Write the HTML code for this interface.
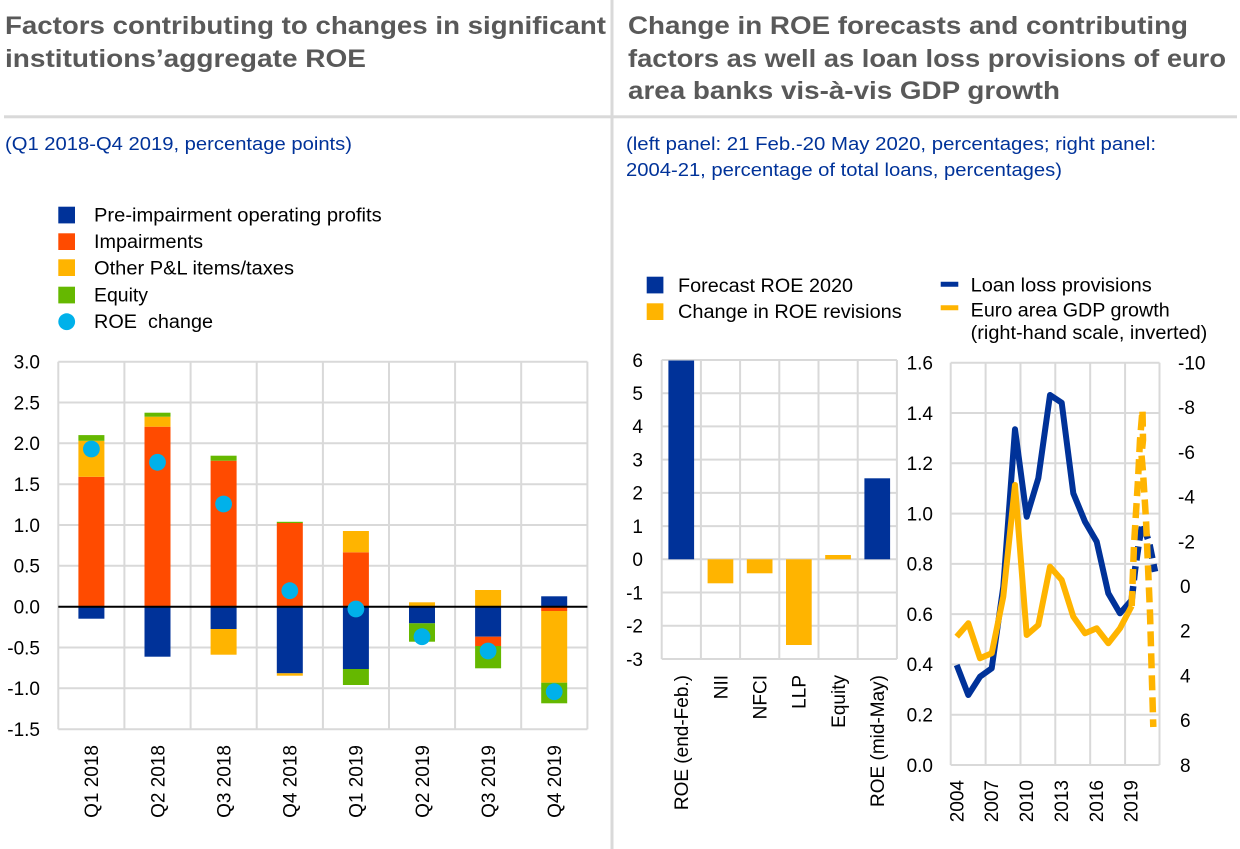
<!DOCTYPE html>
<html><head><meta charset="utf-8"><style>
html,body{margin:0;padding:0;background:#fff;}
svg{display:block;font-family:"Liberation Sans",Arial,sans-serif;}
</style></head><body>
<svg width="1240" height="849" viewBox="0 0 1240 849" xmlns="http://www.w3.org/2000/svg">
<rect width="1240" height="849" fill="#fff"/>
<!-- dividers -->
<rect x="610.5" y="0" width="3" height="849" fill="#d9d9d9"/>
<rect x="4" y="115.3" width="1233" height="3" fill="#d9d9d9"/>

<!-- titles -->
<g font-weight="bold" font-size="25" fill="#595959">
<text x="5" y="34" textLength="601" lengthAdjust="spacingAndGlyphs">Factors contributing to changes in significant</text>
<text x="5" y="67" textLength="361" lengthAdjust="spacingAndGlyphs">institutions’aggregate ROE</text>
<text x="628" y="34" textLength="560" lengthAdjust="spacingAndGlyphs">Change in ROE forecasts and contributing</text>
<text x="628" y="67" textLength="598" lengthAdjust="spacingAndGlyphs">factors as well as loan loss provisions of euro</text>
<text x="628" y="99" textLength="432" lengthAdjust="spacingAndGlyphs">area banks vis-à-vis GDP growth</text>
</g>
<g font-size="18" fill="#003299">
<text x="5" y="150" textLength="347" lengthAdjust="spacingAndGlyphs">(Q1 2018-Q4 2019, percentage points)</text>
<text x="626" y="150" textLength="530" lengthAdjust="spacingAndGlyphs">(left panel: 21 Feb.-20 May 2020, percentages;  right panel:</text>
<text x="626" y="176" textLength="436" lengthAdjust="spacingAndGlyphs">2004-21, percentage of total loans, percentages)</text>
</g>

<!-- left legend -->
<rect x="58.3" y="206.7" width="16.7" height="16.7" fill="#003299"/>
<rect x="58.3" y="233.3" width="16.7" height="16.7" fill="#ff4b00"/>
<rect x="58.3" y="259.3" width="16.7" height="16.7" fill="#ffb400"/>
<rect x="58.3" y="286.7" width="16.7" height="16.7" fill="#65b800"/>
<circle cx="66.7" cy="321.7" r="8.4" fill="#00b1ea"/>
<g font-size="19" fill="#000">
<text x="94" y="221.5" textLength="287.7" lengthAdjust="spacingAndGlyphs">Pre-impairment operating profits</text>
<text x="94" y="248" textLength="109" lengthAdjust="spacingAndGlyphs">Impairments</text>
<text x="94" y="274.5" textLength="200" lengthAdjust="spacingAndGlyphs">Other P&amp;L items/taxes</text>
<text x="94" y="301.5" textLength="54" lengthAdjust="spacingAndGlyphs">Equity</text>
<text x="94" y="328" textLength="119" lengthAdjust="spacingAndGlyphs">ROE&#160; change</text>
</g>

<!-- LEFT CHART grid -->
<g stroke="#d9d9d9" stroke-width="2" fill="none">
<path d="M58.3,361.7H587.4M58.3,402.5H587.4M58.3,443.3H587.4M58.3,484.2H587.4M58.3,525H587.4M58.3,565.8H587.4M58.3,647.5H587.4M58.3,688.3H587.4M58.3,729.2H587.4"/>
<path d="M58.3,361.7V729.2M124.4,361.7V729.2M190.6,361.7V729.2M256.7,361.7V729.2M322.9,361.7V729.2M389,361.7V729.2M455.1,361.7V729.2M521.2,361.7V729.2M587.4,361.7V729.2"/>
</g>
<!-- left bars -->
<g>
<rect x="78.4" y="606.7" width="26" height="12" fill="#003299"/>
<rect x="78.4" y="476.8" width="26" height="129.9" fill="#ff4b00"/>
<rect x="78.4" y="440.8" width="26" height="36" fill="#ffb400"/>
<rect x="78.4" y="435.1" width="26" height="5.7" fill="#65b800"/>
<rect x="144.5" y="606.7" width="26" height="50" fill="#003299"/>
<rect x="144.5" y="426.7" width="26" height="180" fill="#ff4b00"/>
<rect x="144.5" y="416.7" width="26" height="10" fill="#ffb400"/>
<rect x="144.5" y="412.7" width="26" height="4" fill="#65b800"/>
<rect x="210.6" y="606.7" width="26" height="22.3" fill="#003299"/>
<rect x="210.6" y="629" width="26" height="25.7" fill="#ffb400"/>
<rect x="210.6" y="460.7" width="26" height="146" fill="#ff4b00"/>
<rect x="210.6" y="455.7" width="26" height="5" fill="#65b800"/>
<rect x="276.8" y="606.7" width="26" height="66.6" fill="#003299"/>
<rect x="276.8" y="673.3" width="26" height="2.4" fill="#ffb400"/>
<rect x="276.8" y="523" width="26" height="83.7" fill="#ff4b00"/>
<rect x="276.8" y="521.8" width="26" height="1.2" fill="#65b800"/>
<rect x="342.9" y="552.3" width="26" height="54.4" fill="#ff4b00"/>
<rect x="342.9" y="531" width="26" height="21.3" fill="#ffb400"/>
<rect x="342.9" y="606.7" width="26" height="62.3" fill="#003299"/>
<rect x="342.9" y="669" width="26" height="16" fill="#65b800"/>
<rect x="409" y="602.3" width="26" height="4.4" fill="#ffb400"/>
<rect x="409" y="606.7" width="26" height="16.6" fill="#003299"/>
<rect x="409" y="623.3" width="26" height="18.4" fill="#65b800"/>
<rect x="475.1" y="590" width="26" height="16.7" fill="#ffb400"/>
<rect x="475.1" y="606.7" width="26" height="30" fill="#003299"/>
<rect x="475.1" y="636.7" width="26" height="9.3" fill="#ff4b00"/>
<rect x="475.1" y="646" width="26" height="22.3" fill="#65b800"/>
<rect x="541.2" y="596.3" width="26" height="10.4" fill="#003299"/>
<rect x="541.2" y="606.7" width="26" height="4.3" fill="#ff4b00"/>
<rect x="541.2" y="611" width="26" height="71.7" fill="#ffb400"/>
<rect x="541.2" y="682.7" width="26" height="20.6" fill="#65b800"/>
</g>
<line x1="58.3" y1="606.7" x2="587.4" y2="606.7" stroke="#000" stroke-width="2"/>
<g fill="#00b1ea">
<circle cx="91.4" cy="449" r="8.4"/>
<circle cx="157.5" cy="462.3" r="8.4"/>
<circle cx="223.6" cy="504" r="8.4"/>
<circle cx="289.8" cy="590.7" r="8.4"/>
<circle cx="355.9" cy="609" r="8.4"/>
<circle cx="422" cy="636.7" r="8.4"/>
<circle cx="488.1" cy="651" r="8.4"/>
<circle cx="554.2" cy="691.7" r="8.4"/>
</g>
<g font-size="19" fill="#000" text-anchor="end">
<text x="40" y="368.5">3.0</text>
<text x="40" y="409.3">2.5</text>
<text x="40" y="450.1">2.0</text>
<text x="40" y="491">1.5</text>
<text x="40" y="531.8">1.0</text>
<text x="40" y="572.6">0.5</text>
<text x="40" y="613.5">0.0</text>
<text x="40" y="654.3">-0.5</text>
<text x="40" y="695.1">-1.0</text>
<text x="40" y="736">-1.5</text>
</g>
<g font-size="19" fill="#000" text-anchor="end">
<text transform="translate(98.2,745) rotate(-90)">Q1 2018</text>
<text transform="translate(164.3,745) rotate(-90)">Q2 2018</text>
<text transform="translate(230.4,745) rotate(-90)">Q3 2018</text>
<text transform="translate(296.6,745) rotate(-90)">Q4 2018</text>
<text transform="translate(362.7,745) rotate(-90)">Q1 2019</text>
<text transform="translate(428.8,745) rotate(-90)">Q2 2019</text>
<text transform="translate(494.9,745) rotate(-90)">Q3 2019</text>
<text transform="translate(561,745) rotate(-90)">Q4 2019</text>
</g>

<!-- right legends -->
<rect x="646.7" y="276.7" width="16.7" height="16.7" fill="#003299"/>
<rect x="646.7" y="303.3" width="16.7" height="16.7" fill="#ffb400"/>
<line x1="940.7" y1="284.3" x2="958.3" y2="284.3" stroke="#003299" stroke-width="5"/>
<line x1="940.7" y1="307.7" x2="958.3" y2="307.7" stroke="#ffb400" stroke-width="5"/>
<g font-size="19" fill="#000">
<text x="678" y="292" textLength="175" lengthAdjust="spacingAndGlyphs">Forecast ROE 2020</text>
<text x="678" y="318" textLength="223.7" lengthAdjust="spacingAndGlyphs">Change in ROE revisions</text>
<text x="970.7" y="291.7" textLength="181" lengthAdjust="spacingAndGlyphs">Loan loss provisions</text>
<text x="970.7" y="316.7" textLength="199" lengthAdjust="spacingAndGlyphs">Euro area GDP growth</text>
<text x="970.7" y="339" textLength="236.6" lengthAdjust="spacingAndGlyphs">(right-hand scale, inverted)</text>
</g>

<!-- MIDDLE PANEL -->
<g stroke="#d9d9d9" stroke-width="2" fill="none">
<path d="M661.7,360H896.9M661.7,393.2H896.9M661.7,426.4H896.9M661.7,459.6H896.9M661.7,492.9H896.9M661.7,526.1H896.9M661.7,559.3H896.9M661.7,592.5H896.9M661.7,625.8H896.9M661.7,659H896.9"/>
<path d="M661.7,360V659M700.9,360V659M740.1,360V659M779.3,360V659M818.5,360V659M857.7,360V659M896.9,360V659"/>
</g>
<rect x="668.4" y="360.5" width="25.7" height="198.8" fill="#003299"/>
<rect x="707.6" y="559.3" width="25.7" height="24" fill="#ffb400"/>
<rect x="746.8" y="559.3" width="25.7" height="14" fill="#ffb400"/>
<rect x="786" y="559.3" width="25.7" height="85.7" fill="#ffb400"/>
<rect x="825.2" y="555" width="25.7" height="4.3" fill="#ffb400"/>
<rect x="864.4" y="478.3" width="25.7" height="81" fill="#003299"/>
<g font-size="19" fill="#000" text-anchor="end">
<text x="643" y="366.8">6</text>
<text x="643" y="400">5</text>
<text x="643" y="433.2">4</text>
<text x="643" y="466.4">3</text>
<text x="643" y="499.7">2</text>
<text x="643" y="532.9">1</text>
<text x="643" y="566.1">0</text>
<text x="643" y="599.3">-1</text>
<text x="643" y="632.6">-2</text>
<text x="643" y="665.8">-3</text>
</g>
<g font-size="19" fill="#000" text-anchor="end">
<text transform="translate(688.1,675) rotate(-90)">ROE (end-Feb.)</text>
<text transform="translate(727.3,675) rotate(-90)">NII</text>
<text transform="translate(766.5,675) rotate(-90)">NFCI</text>
<text transform="translate(805.7,675) rotate(-90)">LLP</text>
<text transform="translate(844.9,675) rotate(-90)">Equity</text>
<text transform="translate(884.1,675) rotate(-90)">ROE (mid-May)</text>
</g>

<!-- RIGHT LINE PANEL -->
<g stroke="#d9d9d9" stroke-width="2" fill="none">
<path d="M950.7,362.7H1159.5M950.7,413H1159.5M950.7,463.3H1159.5M950.7,513.6H1159.5M950.7,563.9H1159.5M950.7,614.1H1159.5M950.7,664.4H1159.5M950.7,714.7H1159.5M950.7,765H1159.5"/>
<path d="M950.7,362.7V765M985.6,362.7V765M1020.5,362.7V765M1055.3,362.7V765M1090.2,362.7V765M1125.1,362.7V765M1159.5,362.7V765"/>
</g>
<g fill="none" stroke-linejoin="round" stroke-width="6">
<polyline stroke="#003299" points="956.7,665 968.3,695 980,676.7 991.7,668.3 1003.3,586.7 1015,429.3 1026.7,516.7 1038.3,478.3 1050,395 1061.7,402.7 1073.3,493.3 1085,521.7 1096.7,541.7 1108.3,593.3 1120,613.3 1131.7,600"/>
<polyline stroke="#003299" stroke-width="6.5" stroke-dasharray="14,6" points="1131.7,600 1135,570 1139.3,540 1142.7,523.3 1149.3,543.3 1155,571.7"/>
<polyline stroke="#ffb400" points="956.7,636.7 968.3,623.3 980,658.3 991.7,653.3 1003.3,596.7 1015,485 1026.7,635 1038.3,625 1050,566.7 1061.7,580 1073.3,616.7 1085,633.3 1096.7,628.3 1108.3,643.3 1120,628.3 1131.7,606"/>
<polyline stroke="#ffb400" stroke-width="6.5" stroke-dasharray="15,7" points="1131.7,606 1134,545 1138,480 1140,440 1142.5,410 1143,440 1141.5,455 1143,472 1146,520 1150,613 1153.3,727"/>
</g>
<g font-size="19" fill="#000" text-anchor="end">
<text x="933" y="369.5">1.6</text>
<text x="933" y="419.8">1.4</text>
<text x="933" y="470.1">1.2</text>
<text x="933" y="520.4">1.0</text>
<text x="933" y="570.7">0.8</text>
<text x="933" y="620.9">0.6</text>
<text x="933" y="671.2">0.4</text>
<text x="933" y="721.5">0.2</text>
<text x="933" y="771.8">0.0</text>
</g>
<g font-size="19" fill="#000">
<text x="1178" y="369.5">-10</text>
<text x="1178" y="414.2">-8</text>
<text x="1178" y="458.9">-6</text>
<text x="1178" y="503.6">-4</text>
<text x="1178" y="548.3">-2</text>
<text x="1180" y="593">0</text>
<text x="1180" y="637.7">2</text>
<text x="1180" y="682.4">4</text>
<text x="1180" y="727.1">6</text>
<text x="1180" y="771.8">8</text>
</g>
<g font-size="19" fill="#000" text-anchor="end">
<text transform="translate(963.3,780) rotate(-90)">2004</text>
<text transform="translate(998.2,780) rotate(-90)">2007</text>
<text transform="translate(1033.1,780) rotate(-90)">2010</text>
<text transform="translate(1067.9,780) rotate(-90)">2013</text>
<text transform="translate(1102.8,780) rotate(-90)">2016</text>
<text transform="translate(1137.7,780) rotate(-90)">2019</text>
</g>
</svg>
</body></html>
